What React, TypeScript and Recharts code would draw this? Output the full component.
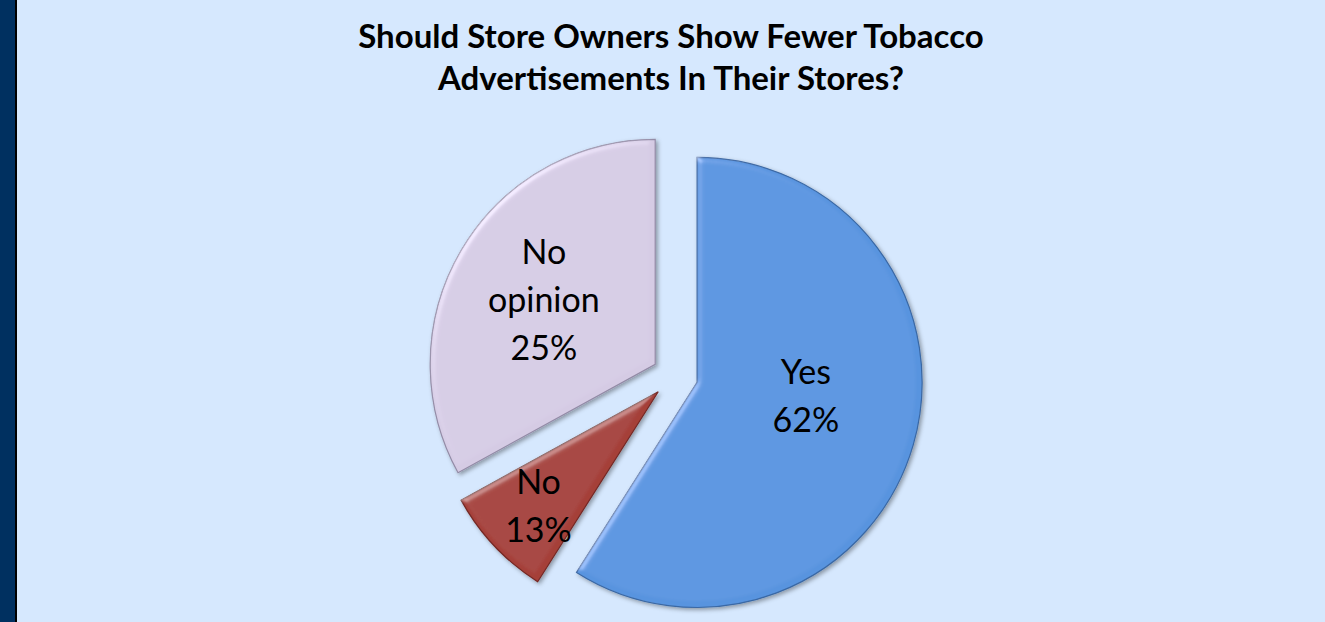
import { Cell, Pie, PieChart } from "recharts";

const categories = ["Yes", "No", "No opinion"];
const sliceValues = [59, 8, 33];
const percentLabels = ["62%", "13%", "25%"];
const titleLines = [
  "Should Store Owners Show Fewer Tobacco",
  "Advertisements In Their Stores?",
];

const COLORS = ["#5894DF", "#A53F39", "#D5CBE4"];
const STROKES = ["#3A68A4", "#742824", "#938BA6"];

const W = 1325;
const H = 622;
const CX = 675;
const CY = 376;
const R = 225;
const EXPLODE = 23;
const LABEL_RADII = [0.49, 0.73, 0.575];
const LABEL_NUDGE = [
  [3, -19],
  [0, 0],
  [0, 0],
];
const LABEL_FONT = 34;
const LABEL_LINE = 48;
const RADIAN = Math.PI / 180;

const data = categories.map((name, i) => ({ name, value: sliceValues[i] }));
const total = sliceValues.reduce((s, v) => s + v, 0);

// recharts angle of each slice's bisector (start at 12 o'clock, clockwise)
const midAngles = sliceValues.map((v, i) => {
  const before = sliceValues.slice(0, i).reduce((s, x) => s + x, 0);
  return 90 - (360 * (before + v / 2)) / total;
});

const makeLabel =
  (k: number) =>
  (props: any) => {
    const { cx, cy, midAngle, outerRadius, index } = props;
    if (index !== k) return null;
    const r = outerRadius * LABEL_RADII[k];
    const x = cx + r * Math.cos(-midAngle * RADIAN) + LABEL_NUDGE[k][0];
    const y = cy + r * Math.sin(-midAngle * RADIAN) + LABEL_NUDGE[k][1];
    const lines = [...categories[k].split(" "), percentLabels[k]];
    const y0 = y - ((lines.length - 1) * LABEL_LINE) / 2;
    return (
      <text
        x={x}
        y={y0}
        textAnchor="middle"
        dominantBaseline="central"
        fill="#000"
        style={{ fontFamily: "Lato, sans-serif", fontSize: LABEL_FONT }}
      >
        {lines.map((t, j) => (
          <tspan key={j} x={x} y={y0 + j * LABEL_LINE}>
            {t}
          </tspan>
        ))}
      </text>
    );
  };

export default function App() {
  return (
    <div
      style={{
        position: "absolute",
        left: 0,
        top: 0,
        width: W,
        height: H,
        background: "#D6E8FE",
        overflow: "hidden",
      }}
    >
      <div
        style={{
          position: "absolute",
          left: 0,
          top: 0,
          width: 15,
          height: H,
          background: "#003060",
          borderRight: "2px solid #000",
        }}
      />
      <svg width={0} height={0} style={{ position: "absolute" }}>
        <defs>
          <filter id="bevel" x="-5%" y="-5%" width="115%" height="115%">
            <feGaussianBlur in="SourceAlpha" stdDeviation="3" result="blur" />
            <feSpecularLighting
              in="blur"
              surfaceScale="3"
              specularConstant="0.7"
              specularExponent="22"
              lightingColor="#ffffff"
              result="spec"
            >
              <feDistantLight azimuth="225" elevation="35" />
            </feSpecularLighting>
            <feComposite in="spec" in2="SourceAlpha" operator="in" result="specIn" />
            <feComposite
              in="SourceGraphic"
              in2="specIn"
              operator="arithmetic"
              k1="0"
              k2="1"
              k3="0.35"
              k4="0"
              result="lit"
            />
            <feDropShadow dx="2" dy="2" stdDeviation="2" floodColor="#000" floodOpacity="0.35" />
          </filter>
        </defs>
      </svg>
      <div
        style={{
          position: "absolute",
          left: 17,
          right: 0,
          top: 14,
          textAlign: "center",
          fontFamily: "Lato, sans-serif",
          fontWeight: 700,
          fontSize: 33,
          lineHeight: "42px",
          color: "#000",
        }}
      >
        {titleLines.map((t) => (
          <div key={t}>{t}</div>
        ))}
      </div>
      <div style={{ position: "absolute", left: 0, top: 0 }}>
        <PieChart width={W} height={H} margin={{ top: 0, right: 0, bottom: 0, left: 0 }}>
          {categories.map((_, k) => (
            <Pie
              key={k}
              data={data}
              dataKey="value"
              nameKey="name"
              cx={CX + EXPLODE * Math.cos(-midAngles[k] * RADIAN)}
              cy={CY + EXPLODE * Math.sin(-midAngles[k] * RADIAN)}
              outerRadius={R}
              startAngle={90}
              endAngle={-270}
              label={makeLabel(k)}
              labelLine={false}
              isAnimationActive={false}
            >
              {data.map((_, i) => (
                <Cell
                  key={i}
                  fill={i === k ? COLORS[i] : "transparent"}
                  stroke={i === k ? STROKES[i] : "none"}
                  strokeWidth={1.2}
                  style={i === k ? { filter: "url(#bevel)" } : undefined}
                />
              ))}
            </Pie>
          ))}
        </PieChart>
      </div>
    </div>
  );
}
